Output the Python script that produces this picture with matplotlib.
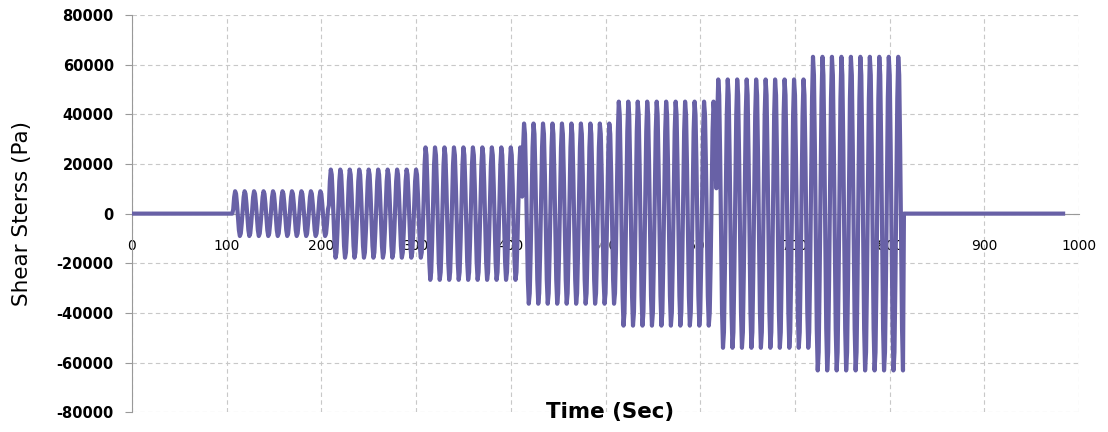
import numpy as np
import matplotlib
matplotlib.use("Agg")
import matplotlib.pyplot as plt

# --- data ---
step_starts = [107, 208, 308, 412, 512, 617, 717]          # s, start of each loading step
step_end = 815                                              # s, end of last step
amplitudes = [9100, 17900, 26900, 36600, 45500, 54500, 63700]  # Pa, peak shear stress per step
period = 10.0                                               # s, oscillation period
record_end = 983                                            # s, end of record
sample_dt = 1.0                                             # s, sampling interval

x_ticks = [0, 100, 200, 300, 400, 500, 600, 700, 800, 900, 1000]
y_ticks = [-80000, -60000, -40000, -20000, 0, 20000, 40000, 60000, 80000]

# build the recorded signal from the step parameters
t = np.arange(0, record_end + sample_dt, sample_dt)
stress = np.zeros_like(t)
bounds = step_starts + [step_end]
for i, amp in enumerate(amplitudes):
    m = (t >= bounds[i]) & (t < bounds[i + 1])
    stress[m] = amp * np.sin(2 * np.pi * (t[m] - bounds[i] + 0.3) / period)

fig = plt.figure(figsize=(11.08, 4.32), dpi=100)
ax = fig.add_axes([0.119, 0.046, 0.855, 0.919])

ax.plot(t, stress, color="#6861A6", lw=3.0, zorder=3)

ax.set_xlim(0, 1000)
ax.set_ylim(-80000, 80000)
ax.set_xticks(x_ticks)
ax.set_yticks(y_ticks)
ax.set_xticklabels([str(v) for v in x_ticks], fontsize=10.5, fontweight="bold")
ax.set_yticklabels([str(v) for v in y_ticks], fontsize=10.5, fontweight="bold")

ax.grid(True, color="#c8c8c8", linestyle=(0, (4, 3)), linewidth=0.8, zorder=0)

for s in ["top", "right"]:
    ax.spines[s].set_visible(False)
ax.spines["bottom"].set_position(("data", 0))
ax.spines["bottom"].set_color("#999999")
ax.spines["left"].set_color("#999999")
ax.tick_params(axis="y", length=5, color="#999999", pad=8)
ax.tick_params(axis="x", length=0, pad=18)

ax.set_xlabel("Time (Sec)", fontsize=15.4, fontweight="bold")
ax.xaxis.set_label_coords(0.505, 0.0)
ax.xaxis.label.set_va("center")
ax.set_ylabel("Shear Sterss (Pa)", fontsize=15.5)
ax.yaxis.set_label_coords(-0.1054, 0.5)

fig.savefig("out.png", dpi=100)
